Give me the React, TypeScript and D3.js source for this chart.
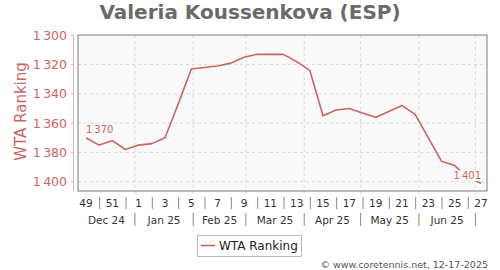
import React from "react";
import * as d3 from "d3";

const weeks = [49, 50, 51, 52, 1, 2, 3, 4, 5, 6, 7, 8, 9, 10, 11, 12, 13, 14, 15, 16, 17, 18, 19, 20, 21, 22, 23, 24, 25, 26, 27];
const ranks = [1370, 1375, 1372, 1378, 1375, 1374, 1370, 1347, 1323, 1322, 1321, 1319, 1315, 1313, 1313, 1313, 1318, 1324, 1355, 1351, 1350, 1353, 1356, 1352, 1348, 1354, 1370, 1386, 1389, 1397, 1401];
const yTicks = [1300, 1320, 1340, 1360, 1380, 1400];
const monthLabels = ["Dec 24", "Jan 25", "Feb 25", "Mar 25", "Apr 25", "May 25", "Jun 25"];

const TITLE = "Valeria Koussenkova (ESP)";
const Y_TITLE = "WTA Ranking";
const LEGEND = "WTA Ranking";
const CREDIT = "\u00a9 www.coretennis.net, 12-17-2025";

const RED = "#cd6464";
const FONT = "DejaVu Sans, sans-serif";

const fmt = (v: number) => {
  const s = String(v);
  return s.length > 3 ? s.slice(0, s.length - 3) + "\u202f" + s.slice(-3) : s;
};

export default function App() {
  const left = 78, right = 487, top = 35, bottom = 191;
  const firstDate = new Date(2024, 11, 6);
  const dates = weeks.map((_, i) => d3.timeDay.offset(firstDate, i * 7));
  const x = d3.scaleTime().domain([dates[0], dates[dates.length - 1]]).range([86, 481]);
  const y = d3.scaleLinear().domain([1300, 1400]).range([35.3, 181.7]);
  const pts = ranks.map((r, i) => [x(dates[i]), y(r)] as [number, number]);
  const line = d3.line().curve(d3.curveLinear)(pts) || "";
  const monthStarts = d3.timeMonth.range(d3.timeMonth.ceil(x.invert(left)), x.invert(right + 1));
  const bounds = [left, ...monthStarts.map((m) => x(m)), right];

  const lastI = ranks.length - 1;
  const firstLbl = fmt(ranks[0]);
  const lastLbl = fmt(ranks[lastI]);

  return (
    <svg width={500} height={270} style={{ position: "absolute", left: 0, top: 0, background: "#fff" }} fontFamily={FONT}>
      <text x={250} y={19} textAnchor="middle" fontSize={20} fontWeight="bold" fill="#6a6a6a">{TITLE}</text>
      <rect x={left} y={top} width={right - left} height={bottom - top} fill="#f9f9f9" stroke="none" />
      {yTicks.slice(1).map((t) => (
        <line key={t} x1={left} x2={right} y1={y(t)} y2={y(t)} stroke="#d9d9d9" strokeDasharray="3,3" />
      ))}
      {monthStarts.map((m, i) => (
        <line key={i} x1={x(m)} x2={x(m)} y1={top} y2={bottom + 3} stroke="#d9d9d9" strokeDasharray="3,3" />
      ))}
      <path d={line} fill="none" stroke={RED} strokeWidth={1.6} strokeLinejoin="round" />
      <g fontSize={10} fill={RED}>
        <rect x={pts[0][0] - 1} y={pts[0][1] - 14} width={28} height={11} fill="#f9f9f9" />
        <text x={pts[0][0]} y={pts[0][1] - 5}>{firstLbl}</text>
        <rect x={pts[lastI][0] - 27} y={pts[lastI][1] - 13} width={28} height={11} fill="#f9f9f9" />
        <text x={pts[lastI][0]} y={pts[lastI][1] - 4} textAnchor="end">{lastLbl}</text>
      </g>
      <rect x={left} y={top} width={right - left} height={bottom - top} fill="none" stroke="#7a7a7a" strokeWidth={1} />
      <line x1={73.5} x2={73.5} y1={top} y2={bottom} stroke="#dcb0b0" />
      {yTicks.map((t) => (
        <g key={t}>
          <line x1={71} x2={73.5} y1={y(t)} y2={y(t)} stroke="#dcb0b0" />
          <text x={67} y={y(t)} dy="0.36em" textAnchor="end" fontSize={12.5} fill={RED}>{fmt(t)}</text>
        </g>
      ))}
      <text transform={`translate(26,111.5) rotate(-90)`} textAnchor="middle" fontSize={15} fill={RED}>{Y_TITLE}</text>
      <g fontSize={10.5} fill="#333">
        {weeks.map((w, i) =>
          i % 2 === 0 ? (
            <text key={i} x={x(dates[i])} y={207} textAnchor="middle">{w}</text>
          ) : (
            <line key={i} x1={x(dates[i]) + 0.5} x2={x(dates[i]) + 0.5} y1={197} y2={209} stroke="#888" />
          )
        )}
        {monthStarts.map((m, i) => (
          <line key={i} x1={x(m)} x2={x(m)} y1={213} y2={226} stroke="#888" />
        ))}
        {monthLabels.map((ml, i) => (
          <text key={ml} x={(bounds[i] + bounds[i + 1]) / 2} y={224} textAnchor="middle">{ml}</text>
        ))}
      </g>
      <rect x={197.5} y={235.5} width={104} height={21} fill="#fff" stroke="#bbb" />
      <line x1={201} x2={215} y1={245.5} y2={245.5} stroke={RED} strokeWidth={1.6} />
      <text x={219} y={250} fontSize={12} fill="#222">{LEGEND}</text>
      <text x={488} y={268} textAnchor="end" fontSize={9.5} fill="#555">{CREDIT}</text>
    </svg>
  );
}
